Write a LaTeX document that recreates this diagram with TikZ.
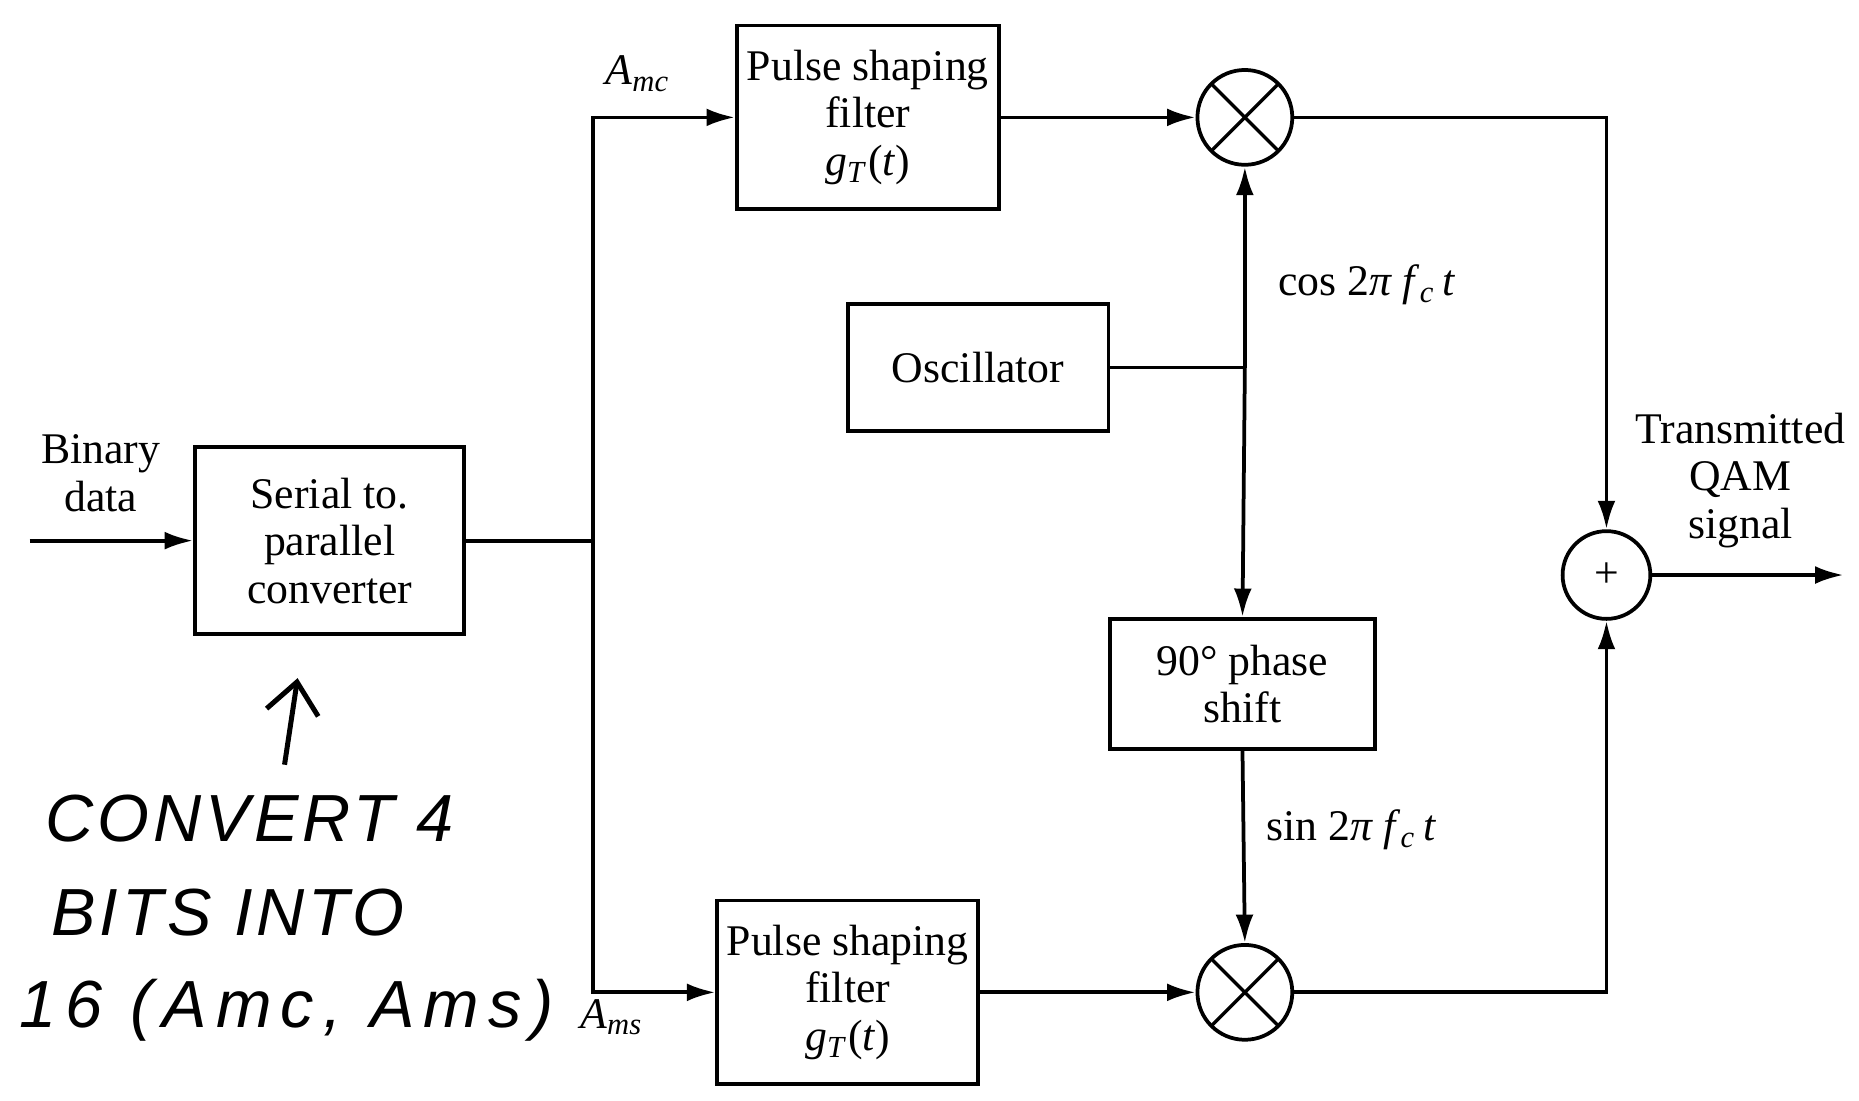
\documentclass[tikz,border=0pt]{standalone}
\usepackage{fontspec}
\setmainfont{Liberation Serif}
\newfontfamily\handfont[LetterSpace=6]{Liberation Sans}
\usetikzlibrary{arrows.meta}

\newcommand{\gfilt}{\textit{g}\textsubscript{\textit{T}}(\textit{t})}
\newcommand{\carrier}{2\textit{π f}\textsubscript{\textit{c}}\,\textit{t}}

\tikzset{
  block/.style={draw, line width=0.9pt, inner sep=0pt, align=center},
  mixer/.style={draw, circle, line width=0.9pt, minimum size=8mm, inner sep=0pt,
    path picture={\draw[line width=0.8pt] (path picture bounding box.north west) -- (path picture bounding box.south east)
      (path picture bounding box.north east) -- (path picture bounding box.south west);}},
  wire/.style={line width=0.9pt},
  sig/.style={wire, -{Latex[length=2.4mm,width=1.5mm]}},
  hand/.style={font=\handfont\itshape\fontsize{16}{18}\selectfont, anchor=west},
}

\begin{document}
\begin{tikzpicture}[x=0.1mm, y=-0.1mm, font=\fontsize{10.5}{11.4}\selectfont]
  \useasboundingbox (0,0) rectangle (1568,928);

  \coordinate (datain) at (25,456);
  \coordinate (split) at (500,456);
  \coordinate (cornA) at (500,99);
  \coordinate (cornB) at (500,837);
  \coordinate (oscj) at (1050,310);
  \coordinate (sigout) at (1555,485);
  \coordinate (handtail) at (240,645);
  \coordinate (handtip) at (251,572);

  \node[block, minimum width=22.7mm, minimum height=15.8mm] (serial) at (278,456) {Serial to.\\parallel\\converter};
  \node[block, minimum width=22.1mm, minimum height=15.5mm] (filtA) at (732,99) {Pulse shaping\\filter\\\gfilt};
  \node[block, minimum width=22mm, minimum height=15.5mm] (filtB) at (715,837) {Pulse shaping\\filter\\\gfilt};
  \node[block, minimum width=22mm, minimum height=10.7mm] (osc) at (825,310) {Oscillator};
  \node[block, minimum width=22.3mm, minimum height=11mm] (shift) at (1048,577) {90° phase\\shift};
  \node[mixer] (mixA) at (1050,99) {};
  \node[mixer] (mixB) at (1050,837) {};
  \node[draw, circle, line width=0.9pt, minimum size=7.4mm, inner sep=0pt] (adder) at (1355,485) {+};

  \node[align=center] (binlabel) at (85,399) {Binary\\data};
  \node[align=center] (qamlabel) at (1468,405) {Transmitted\\QAM\\signal};
  \node (amc) at (538,62) {\textit{A}\textsubscript{\textit{mc}}};
  \node (ams) at (516,858) {\textit{A}\textsubscript{\textit{ms}}};
  \node[anchor=west] (coslabel) at (1066,240) {cos \carrier};
  \node[anchor=west] (sinlabel) at (1056,700) {sin \carrier};

  \draw[sig] (datain) -- (serial.west);
  \draw[wire] (serial.east) -- (split);
  \draw[sig] (split) -- (cornA) -- (filtA.west);
  \draw[sig] (split) -- (cornB) -- (filtB.west);
  \draw[sig] (filtA.east) -- (mixA.west);
  \draw[sig] (filtB.east) -- (mixB.west);
  \draw[wire] (osc.east) -- (oscj);
  \draw[sig] (oscj) -- (mixA.south);
  \draw[sig] (oscj) -- (shift.north);
  \draw[sig] (shift.south) -- (mixB.north);
  \draw[sig] (mixA.east) -| (adder.north);
  \draw[sig] (mixB.east) -| (adder.south);
  \draw[sig] (adder.east) -- (sigout);

  \draw[line width=1.2pt, -{Straight Barb[length=2.6mm,width=4.4mm]}] (handtail) -- (handtip);
  \node[hand] (note1) at (26,690) {CONVERT 4};
  \node[hand] (note2) at (31,770) {BITS INTO};
  \node[hand] (note3) at (4,852) {\addfontfeature{LetterSpace=14}16 (Amc, Ams)};
\end{tikzpicture}
\end{document}
